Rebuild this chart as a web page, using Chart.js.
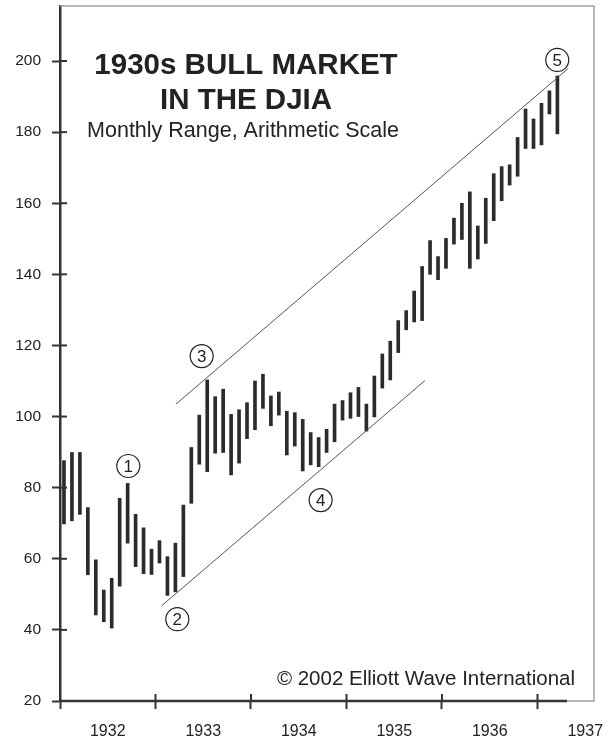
<!DOCTYPE html>
<html><head><meta charset="utf-8">
<script src="https://cdn.jsdelivr.net/npm/chart.js@4.4.1/dist/chart.umd.min.js"></script>
<style>html,body{margin:0;padding:0;background:#fff;}#wrap{width:604px;height:744px;}</style>
</head><body><div id="wrap"><canvas id="c" width="604" height="744"></canvas></div>
<script>
// Monthly DJIA range, Jan 1932 .. Mar 1937 (one entry per month)
const highs = [87.6,89.9,89.9,74.4,59.7,51.2,54.5,77.0,81.2,72.5,68.7,62.7,
  65.1,60.6,64.4,75.1,91.3,100.4,110.3,105.6,107.7,100.6,101.9,103.9,
  110.0,111.9,105.8,106.9,101.5,101.1,99.2,95.5,94.1,96.4,103.5,104.5,
  106.7,108.2,103.5,111.4,117.6,121.2,127.0,129.8,135.3,142.2,149.5,145.0,
  150.1,155.8,160.0,163.2,153.6,161.4,168.3,170.3,170.8,178.5,186.5,183.7,
  188.1,191.6,195.8];
const lows = [69.8,70.7,72.5,55.5,44.2,42.3,40.5,52.3,64.4,57.8,55.8,55.6,
  58.8,49.7,50.7,55.0,75.6,86.6,84.5,89.7,89.9,83.6,86.9,93.8,
  96.3,102.3,97.4,100.4,89.2,91.7,84.7,86.4,85.9,89.9,92.9,99.0,
  99.5,100.0,95.9,99.9,108.0,110.3,118.0,124.4,126.6,127.0,140.0,138.5,
  141.7,148.5,149.8,141.7,144.3,148.7,155.1,160.7,165.1,167.6,175.4,175.4,
  176.4,185.1,179.5];
const yearLabels = ['1932','1933','1934','1935','1936','1937'];
const yTickValues = [20,40,60,80,100,120,140,160,180,200];
// trend channel (x in months since Jan 1932)
const upperLine = [{x:14.57,y:103.5},{x:63.86,y:197.9}];
const lowerLine = [{x:12.78,y:46.8},{x:45.85,y:110.1}];
// Elliott wave labels
const waveNames = ['1','2','3','4','5'];
const waveX = [8.58,14.74,17.8,32.75,62.48];
const waveY = [86.1,43.0,117.0,76.5,200.3];
const titleLines = ['1930s BULL MARKET','IN THE DJIA'];
const subtitleText = 'Monthly Range, Arithmetic Scale';
const creditText = '\u00A9 2002 Elliott Wave International';

const FONT = "'Liberation Sans', Arial, Helvetica, sans-serif";
const yearTickVals = [];
for (let k = 0; k < yearLabels.length; k++) { yearTickVals.push(k*12); yearTickVals.push(k*12+6); }

const decor = {
  id: 'decor',
  afterDraw(chart) {
    const c = chart.ctx, a = chart.chartArea, xs = chart.scales.x, ys = chart.scales.y;
    c.save();
    // frame
    c.strokeStyle = '#a0a0a0'; c.lineWidth = 1.5;
    c.beginPath(); c.moveTo(a.left, a.top); c.lineTo(a.right, a.top); c.lineTo(a.right, a.bottom); c.lineTo(a.left, a.bottom); c.stroke();
    // x axis dark line
    c.strokeStyle = '#333'; c.lineWidth = 2.5;
    c.beginPath(); c.moveTo(a.left, a.bottom); c.lineTo(xs.getPixelForValue(63.7), a.bottom); c.stroke();
    // inward tick parts
    c.lineWidth = 2;
    yTickValues.forEach(v => { const p = ys.getPixelForValue(v); c.beginPath(); c.moveTo(a.left, p); c.lineTo(a.left + 7, p); c.stroke(); });
    for (let k = 0; k < yearLabels.length; k++) { const p = xs.getPixelForValue(k*12); c.beginPath(); c.moveTo(p, a.bottom); c.lineTo(p, a.bottom - 7); c.stroke(); }
    // wave numbers
    c.fillStyle = '#222'; c.font = '17px ' + FONT; c.textAlign = 'center'; c.textBaseline = 'middle';
    waveNames.forEach((n, i) => c.fillText(n, xs.getPixelForValue(waveX[i]), ys.getPixelForValue(waveY[i]) + 1));
    // titles
    const cx = 246;
    c.textBaseline = 'alphabetic';
    c.font = 'bold 29.5px ' + FONT;
    c.fillText(titleLines[0], cx, 73.5);
    c.fillText(titleLines[1], cx, 109);
    c.font = '21.5px ' + FONT;
    c.fillText(subtitleText, cx - 3, 136.5);
    c.textAlign = 'right'; c.font = '20.5px ' + FONT;
    c.fillText(creditText, 575, 685);
    c.restore();
  }
};

new Chart(document.getElementById('c'), {
  type: 'bar',
  data: { datasets: [
    { type: 'bar', data: highs.map((h, i) => ({x: i + 0.5, y: [lows[i], h]})), backgroundColor: '#2b2b2b', borderWidth: 0, barThickness: 3, order: 3 },
    { type: 'line', data: upperLine, borderColor: '#555', borderWidth: 1, pointRadius: 0, fill: false, order: 2 },
    { type: 'line', data: lowerLine, borderColor: '#555', borderWidth: 1, pointRadius: 0, fill: false, order: 2 },
    { type: 'scatter', data: waveX.map((x, i) => ({x: x, y: waveY[i]})), pointRadius: 11.5, pointBackgroundColor: '#fff', pointBorderColor: '#222', pointBorderWidth: 1.2, order: 0, clip: false }
  ]},
  options: {
    responsive: false, animation: false, devicePixelRatio: 1,
    layout: { autoPadding: false, padding: { top: 6, right: 10, left: 0, bottom: 0 } },
    plugins: { legend: { display: false }, tooltip: { enabled: false }, title: { display: false } },
    scales: {
      x: {
        type: 'linear', min: 0, max: 67.1, offset: false,
        grid: { offset: false, drawOnChartArea: false, tickLength: 8, tickWidth: 2,
          tickColor: ctx => (ctx.tick && ctx.tick.value % 12 === 0) ? '#333' : 'rgba(0,0,0,0)' },
        border: { display: false },
        afterBuildTicks: s => { s.ticks = yearTickVals.map(v => ({value: v})); },
        afterFit: s => { s.height = 43; s.paddingLeft = 0; s.paddingRight = 0; },
        ticks: { autoSkip: false, maxRotation: 0, minRotation: 0, padding: 13, color: '#222',
          font: { family: FONT, size: 16 },
          callback: v => (v % 12 === 6) ? yearLabels[(v - 6) / 12] : '' }
      },
      y: {
        type: 'linear', min: 20, max: 215.47,
        grid: { drawOnChartArea: false, tickLength: 8, tickWidth: 2, tickColor: '#333' },
        border: { display: true, color: '#333', width: 2.5 },
        afterBuildTicks: s => { s.ticks = yTickValues.map(v => ({value: v})); },
        afterFit: s => { s.width = 60; s.paddingTop = 0; s.paddingBottom = 0; },
        ticks: { padding: 11, color: '#222', font: { family: FONT, size: 15.5 } }
      }
    }
  },
  plugins: [decor]
});
</script></body></html>
